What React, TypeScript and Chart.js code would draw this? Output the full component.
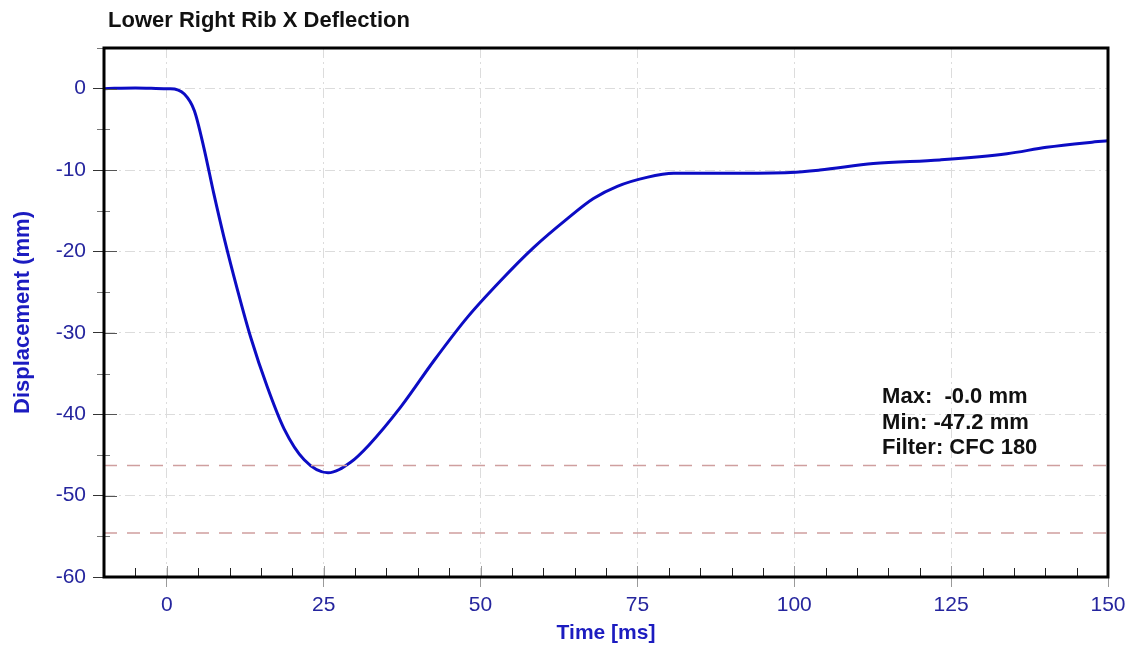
import React, { useEffect, useRef } from "react";
import { Chart, registerables } from "chart.js";

Chart.register(...registerables);

// ---- data ----
const timeMs = [-10, -5, 0, 0.6, 2.8, 4.4, 5.9, 7.5, 9.1, 11.3, 13.4, 16.0, 18.7, 21.9, 25.7, 29.3, 32.2, 37.3, 42.6, 47.9, 53.2, 58.5, 63.8, 68.0, 71.8, 76.5, 80.8, 89.8, 99.4, 104.1, 112.6, 123.2, 133.9, 140.2, 147.1, 150];
const displacementMm = [0, 0.1, 0, 0, -0.65, -2.7, -7.2, -12.9, -18.2, -24.8, -30.6, -36.6, -41.8, -45.6, -47.2, -45.9, -43.8, -39.1, -33.4, -28.1, -23.6, -19.5, -16.0, -13.5, -12.0, -10.9, -10.4, -10.4, -10.3, -10.0, -9.2, -8.75, -8.0, -7.2, -6.6, -6.4];
const limitSpanMs = [-10, 150];
const limitUpperMm = [-46.3, -46.3];
const limitLowerMm = [-54.6, -54.6];
const xMajorStep = 25;
const xMinorStep = 5;
const yMajorStep = 10;
const yMinorStep = 5;
const chartTitle = "Lower Right Rib X Deflection";
const xAxisTitle = "Time [ms]";
const yAxisTitle = "Displacement (mm)";
const statsLines = ["Max:  -0.0 mm", "Min: -47.2 mm", "Filter: CFC 180"];

const FONT = '"Liberation Sans", Arial, Helvetica, sans-serif';
const TICK_COLOR = "#25259e";
const TITLE_BLUE = "#1c1cc0";

const decorPlugin = {
  id: "decor",
  afterDraw(chart: any) {
    const { ctx, chartArea: a, scales } = chart;
    const xs = scales.x;
    const ys = scales.y;
    ctx.save();
    ctx.setLineDash([]);
    // x ticks
    for (let v = xs.min; v <= xs.max + 1e-9; v += xMinorStep) {
      const px = Math.round(xs.getPixelForValue(v)) + 0.5;
      const major = Math.abs(v % xMajorStep) < 1e-9;
      ctx.beginPath();
      ctx.lineWidth = 1;
      ctx.strokeStyle = major ? "#9a9a9a" : "#222";
      ctx.moveTo(px, a.bottom);
      ctx.lineTo(px, a.bottom - (major ? 11 : 9));
      ctx.stroke();
    }
    // y ticks
    for (let v = ys.min; v <= ys.max + 1e-9; v += yMinorStep) {
      const py = Math.round(ys.getPixelForValue(v)) + 0.5;
      const major = Math.abs(v % yMajorStep) < 1e-9;
      ctx.beginPath();
      ctx.lineWidth = 1;
      ctx.strokeStyle = major ? "#555" : "#777";
      ctx.moveTo(a.left - (major ? 0 : 7), py);
      ctx.lineTo(a.left + (major ? 13 : 6), py);
      ctx.stroke();
    }
    // frame
    ctx.lineWidth = 3;
    ctx.strokeStyle = "#000";
    ctx.strokeRect(a.left, a.top, a.right - a.left, a.bottom - a.top);
    // title
    ctx.fillStyle = "#111";
    ctx.font = `bold 22px ${FONT}`;
    ctx.textBaseline = "middle";
    ctx.textAlign = "left";
    ctx.fillText(chartTitle, 108, 21);
    // stats
    const sx = xs.getPixelForValue(114);
    const sy = ys.getPixelForValue(-37.9);
    ctx.font = `bold 22px ${FONT}`;
    statsLines.forEach((s, i) => ctx.fillText(s, sx, sy + i * 25.5));
    ctx.restore();
  },
};

export default function App() {
  const ref = useRef<HTMLCanvasElement | null>(null);
  useEffect(() => {
    document.body.style.margin = "0";
    const canvas = ref.current;
    if (!canvas) return;
    const chart = new Chart(canvas, {
      type: "line",
      data: {
        datasets: [
          {
            data: limitSpanMs.map((x, i) => ({ x, y: limitUpperMm[i] })),
            borderColor: "#cf9f9f",
            borderWidth: 1.4,
            borderDash: [13, 10],
            pointRadius: 0,
          },
          {
            data: limitSpanMs.map((x, i) => ({ x, y: limitLowerMm[i] })),
            borderColor: "#cf9f9f",
            borderWidth: 1.4,
            borderDash: [13, 10],
            pointRadius: 0,
          },
          {
            data: timeMs.map((x, i) => ({ x, y: displacementMm[i] })),
            borderColor: "#0c0cc4",
            borderWidth: 3,
            pointRadius: 0,
            cubicInterpolationMode: "monotone",
          },
        ],
      },
      options: {
        animation: false,
        responsive: false,
        layout: { padding: { top: 48, right: 25, left: 0, bottom: 0 } },
        plugins: { legend: { display: false }, tooltip: { enabled: false }, title: { display: false } },
        scales: {
          x: {
            type: "linear",
            min: -10,
            max: 150,
            afterFit: (s: any) => { s.height = 69; },
            ticks: { stepSize: xMajorStep, includeBounds: false, color: TICK_COLOR, font: { family: FONT, size: 21 }, padding: 6, maxRotation: 0 },
            grid: { color: "#dcdcdc", tickColor: "#9a9a9a", tickLength: 10, lineWidth: 1 },
            border: { display: true, color: "#000", width: 2, dash: [10, 4, 2, 4] },
            title: { display: true, text: xAxisTitle, color: TITLE_BLUE, font: { family: FONT, size: 21, weight: "bold" }, padding: { top: 0, bottom: 0 } },
          },
          y: {
            type: "linear",
            min: -60,
            max: 5,
            afterFit: (s: any) => { s.width = 104; },
            ticks: { stepSize: yMajorStep, includeBounds: false, color: TICK_COLOR, font: { family: FONT, size: 21 }, padding: 7 },
            grid: { color: "#dcdcdc", tickColor: "#333", tickLength: 11, lineWidth: 1 },
            border: { display: true, color: "#000", width: 2, dash: [10, 4, 2, 4] },
            title: { display: true, text: yAxisTitle, color: TITLE_BLUE, font: { family: FONT, size: 22, weight: "bold" }, padding: { top: 10, bottom: 0 } },
          },
        },
      },
      plugins: [decorPlugin],
    } as any);
    return () => chart.destroy();
  }, []);
  return (
    <div style={{ width: 1133, height: 646 }}>
      <canvas ref={ref} width={1133} height={646} style={{ display: "block" }} />
    </div>
  );
}
